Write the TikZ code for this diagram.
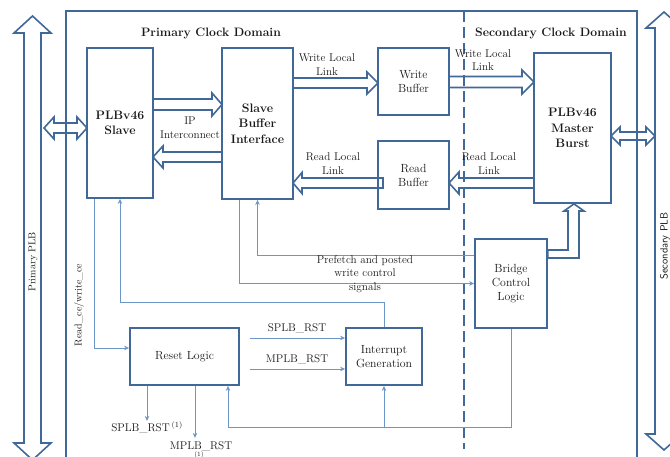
\documentclass[tikz,border=0pt]{standalone}
\usepackage{fontspec}
\usetikzlibrary{arrows.meta,calc}
\definecolor{frameblue}{RGB}{64,104,152}
\definecolor{sigblue}{RGB}{108,150,200}
\definecolor{ink}{RGB}{25,25,25}

% hollow horizontal block arrow: tail x, tip x, centre y, signed head length, shaft half-width, head half-width
\newcommand\hblk[6]{\draw[blk] ({#1},{#3-#5}) -- ({#2-(#4)},{#3-#5}) -- ({#2-(#4)},{#3-#6}) -- ({#2},{#3})
  -- ({#2-(#4)},{#3+#6}) -- ({#2-(#4)},{#3+#5}) -- ({#1},{#3+#5}) -- cycle;}
% hollow two-headed horizontal arrow: left tip, right tip, centre y, head length, shaft half-width, head half-width
\newcommand\hdbl[6]{\draw[blk] ({#1},{#3}) -- ({#1+#4},{#3-#6}) -- ({#1+#4},{#3-#5}) -- ({#2-#4},{#3-#5}) -- ({#2-#4},{#3-#6})
  -- ({#2},{#3}) -- ({#2-#4},{#3+#6}) -- ({#2-#4},{#3+#5}) -- ({#1+#4},{#3+#5}) -- ({#1+#4},{#3+#6}) -- cycle;}
% hollow two-headed vertical arrow: top tip, bottom tip, centre x, head length, shaft half-width, head half-width
\newcommand\vdbl[6]{\draw[blk] ({#3},{#1}) -- ({#3+#6},{#1+#4}) -- ({#3+#5},{#1+#4}) -- ({#3+#5},{#2-#4}) -- ({#3+#6},{#2-#4})
  -- ({#3},{#2}) -- ({#3-#6},{#2-#4}) -- ({#3-#5},{#2-#4}) -- ({#3-#5},{#1+#4}) -- ({#3-#6},{#1+#4}) -- cycle;}

\begin{document}
\begin{tikzpicture}[x=1pt,y=-1pt,
  box/.style={draw=frameblue,line width=1.8pt,inner sep=0pt,align=center,text=ink,
    font=\fontsize{11.8}{14}\selectfont},
  bbox/.style={box,font=\fontsize{12.3}{15.5}\selectfont\bfseries},
  title/.style={font=\fontsize{12.2}{13}\selectfont\bfseries,text=ink,inner sep=0pt},
  lbl/.style={font=\fontsize{11.2}{13.5}\selectfont,align=center,text=ink,inner sep=0pt},
  blk/.style={draw=frameblue,line width=1.6pt,line join=miter},
  sig/.style={draw=sigblue,line width=0.9pt,-{Stealth[length=5pt,width=4.5pt]}},
]
\useasboundingbox (0,0) rectangle (670,457);
\clip (0,0) rectangle (670,457);

% outer frame and clock-domain boundary
\draw[frameblue,line width=1.8pt] (66,11) rectangle (637,475);
\draw[frameblue,line width=1.8pt,dash pattern=on 11pt off 5pt] (464,11) -- (464,449);

\node[title] (ptitle) at (211,33) {Primary Clock Domain};
\node[title] (stitle) at (551,33) {Secondary Clock Domain};

% external buses
\vdbl{16}{460}{32.5}{17}{8.5}{18.5}
\vdbl{12}{450}{664}{16}{9}{18}
\node[lbl,rotate=90,font=\fontsize{10}{12}\selectfont] (pplb) at (33,262) {Primary PLB};
\node[lbl,rotate=90,font=\sffamily\fontsize{10.5}{12}\selectfont] (splb) at (665,246) {Secondary PLB};

% blocks
\node[bbox,minimum width=66pt,minimum height=150pt] (slave) at (120,123) {PLBv46\\Slave};
\node[bbox,minimum width=71pt,minimum height=151pt] (sbi) at (257.5,123.5) {Slave\\Buffer\\Interface};
\node[box,minimum width=71pt,minimum height=67pt] (wbuf) at (413.5,81.5) {Write\\Buffer};
\node[box,minimum width=71pt,minimum height=68pt] (rbuf) at (413.5,175) {Read\\Buffer};
\node[bbox,minimum width=77pt,minimum height=150pt] (master) at (572.5,128) {PLBv46\\Master\\Burst};
\node[box,minimum width=72pt,minimum height=89pt] (bridge) at (511,283.5) {Bridge\\Control\\Logic};
\node[box,minimum width=109pt,minimum height=57pt] (reset) at (184.5,356.5) {Reset Logic};
\node[box,minimum width=76pt,minimum height=57pt] (intr) at (384,356.5) {Interrupt\\Generation};

% bus interfaces
\hdbl{44}{87}{128}{10}{5}{11}
\hdbl{611}{655}{136}{9}{4}{9}

% IP interconnect
\hblk{153}{222}{104.5}{10}{5.5}{11.5}
\hblk{222}{153}{157}{-10}{5}{11}
\node[lbl] (iplbl) at (190,127.5) {IP\\Interconnect};

% local links
\hblk{293}{378}{83}{11}{5}{11}
\hblk{449}{534}{82}{12}{5.5}{12}
\hblk{383}{293}{183}{-9}{5}{10.5}
\hblk{534}{449}{183}{-10}{5}{11}
\node[lbl] (wl1) at (327,64.5) {Write Local\\Link};
\node[lbl] (wl2) at (483,60) {Write Local\\Link};
\node[lbl] (rl1) at (333,163.5) {Read Local\\Link};
\node[lbl] (rl2) at (489,163.5) {Read Local\\Link};

% bridge control to master
\coordinate (bu) at (0,250);
\coordinate (bl) at (0,258);
\coordinate (tipx) at (574,0);
\draw[blk] (bridge.east |- bu) -- (568,250) -- (568,211) -- (564,211) -- (master.south -| tipx)
  -- (584,211) -- (579,211) -- (579,258) -- (bridge.east |- bl) -- cycle;

% lane coordinates for the control signals
\coordinate (xce) at (94,0);
\coordinate (yce) at (0,348);
\coordinate (yint) at (0,302);
\coordinate (ypre) at (0,255);
\coordinate (xpst) at (239,0);
\coordinate (xsr) at (147,0);
\coordinate (xmr) at (195,0);
\coordinate (xfb) at (228,0);
\coordinate (yfb) at (0,427);
\coordinate (s1) at (250,338);
\coordinate (m1) at (250,369);

\draw[sig] (slave.south -| xce) |- (reset.west |- yce);
\node[lbl,rotate=90,font=\fontsize{10}{12}\selectfont] (celbl) at (79,305) {Read\_ce/write\_ce};

\draw[sig] (intr.north) |- (slave.south |- yint) -- (slave.south);
\draw[sig] (bridge.west |- ypre) -| (sbi.south);
\draw[sig] (sbi.south -| xpst) |- (bridge.west);
\node[lbl] (prelbl) at (365,274) {Prefetch and posted\\write control\\signals};

\draw[sig] (s1) -- (intr.west |- s1);
\draw[sig] (m1) -- (intr.west |- m1);
\node[lbl] (slbl) at (297,328) {SPLB\_RST};
\node[lbl] (mlbl) at (297,359) {MPLB\_RST};

\draw[sig] (reset.south -| xsr) -- ++(0,35);
\draw[sig] (reset.south -| xmr) -- ++(0,52);
\node[lbl] (srst) at (147,427) {SPLB\_RST\,\textsuperscript{(1)}};
\node[lbl] (mrst) at (201,446) {MPLB\_RST};
\node[lbl,font=\fontsize{6.5}{7}\selectfont] (mrstn) at (199,455) {(1)};

\draw[sig] (bridge.south) |- (xfb |- yfb) -- (reset.south -| xfb);
\draw[sig] (intr.south |- yfb) -- (intr.south);
\end{tikzpicture}
\end{document}
